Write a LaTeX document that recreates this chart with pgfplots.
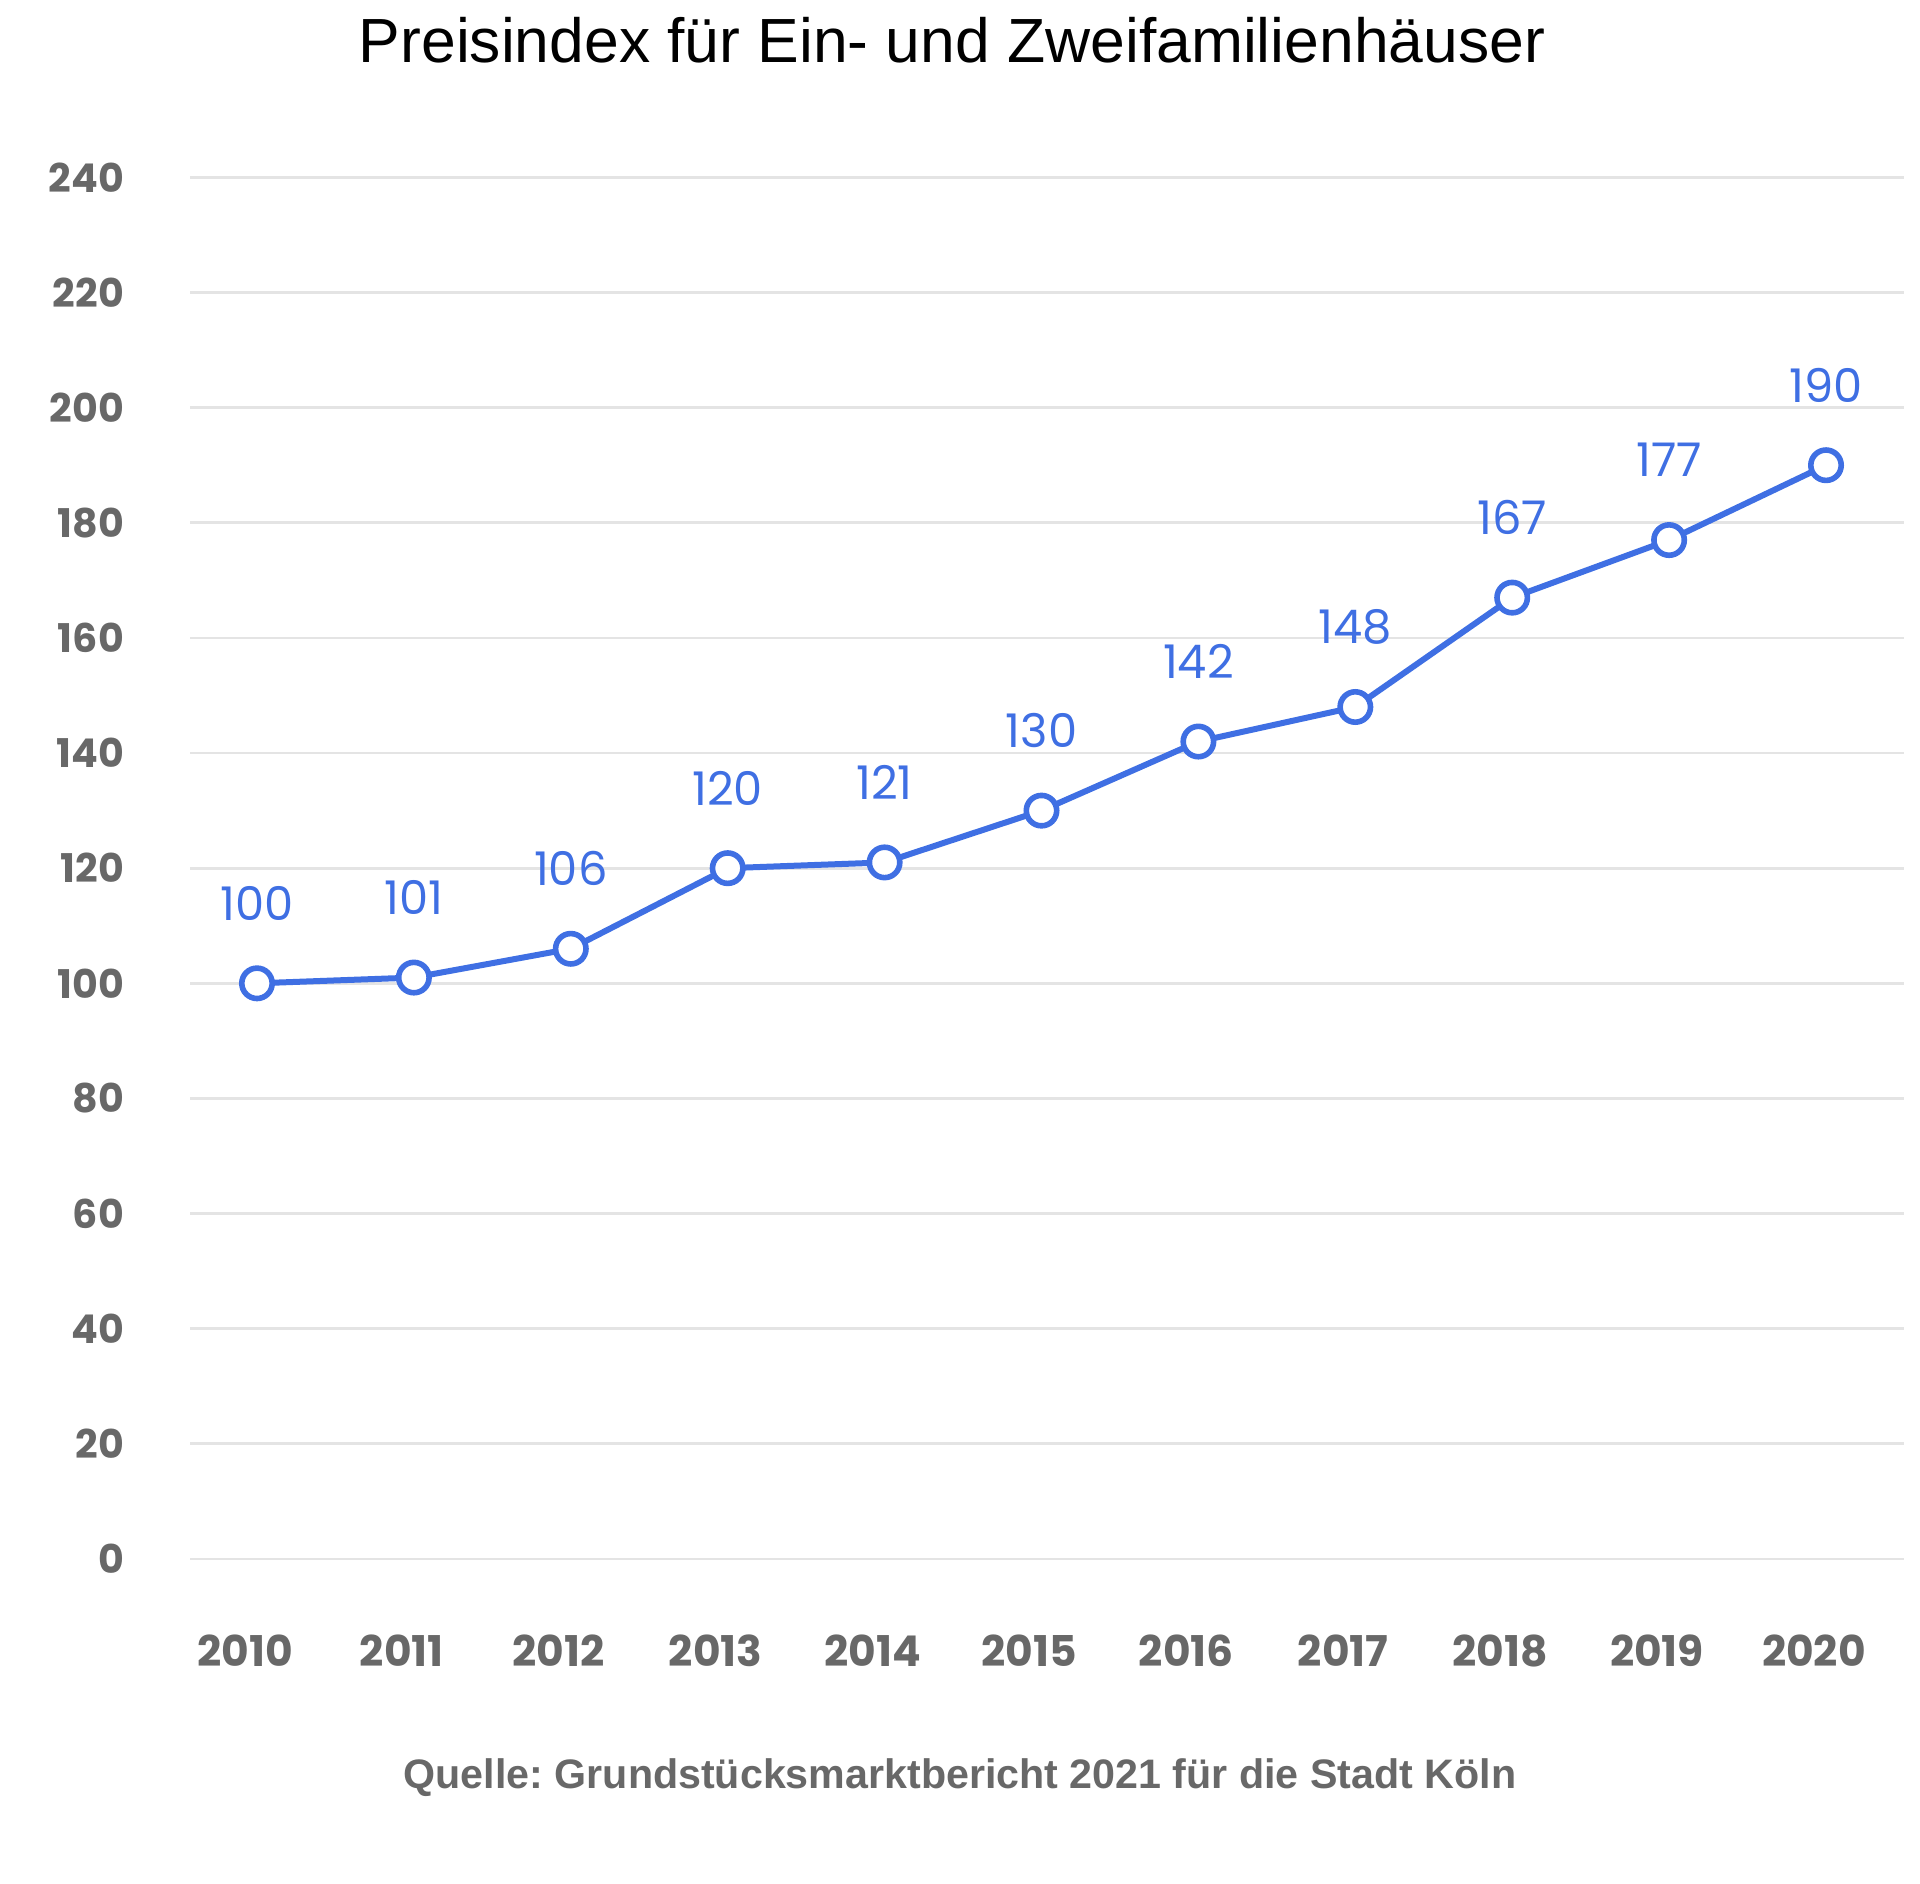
\documentclass[border=0pt]{standalone}
\usepackage{fontspec}
\setmainfont{Liberation Sans}
\newfontfamily\numfont{Poppins}
\usepackage{pgfplots}
\pgfplotsset{compat=1.18}
\frenchspacing

\definecolor{lineblue}{HTML}{3F6FE3}
\definecolor{ticktext}{HTML}{686868}
\definecolor{gridgrey}{HTML}{E4E4E4}

\begin{document}
\begin{tikzpicture}[x=1pt,y=1pt]
  \path[use as bounding box] (0,0) rectangle (480,471);
  \node[font=\fontsize{15.6}{18}\selectfont, text=black] at (238,461) {Preisindex für Ein- und Zweifamilienhäuser};
  \node[font=\fontsize{10.3}{12}\selectfont\bfseries, text=ticktext] at (240,26.5) {Quelle: Grundstücksmarktbericht 2021 für die Stadt Köln};
  \begin{axis}[
    at={(47.5pt,81.25pt)}, anchor=south west,
    scale only axis,
    width=428.5pt, height=345.4pt,
    xmin=2009.573, xmax=2020.497,
    ymin=0, ymax=240,
    axis line style={draw=none},
    major tick length=0pt,
    xtick={2010,...,2020},
    ytick={0,20,...,240},
    ymajorgrids,
    grid style={gridgrey, line width=0.7pt},
    /pgf/number format/1000 sep={},
    /pgf/number format/assume math mode=true,
    tick label style={font=\numfont\bfseries\fontsize{9.9}{11}\selectfont, text=ticktext},
    yticklabel style={anchor=east, xshift=-13pt},
    xticklabel style={anchor=center, yshift=-23pt, xshift=-3pt, font=\numfont\bfseries\fontsize{10.6}{12}\selectfont},
    clip=false,
    nodes near coords,
    every node near coord/.append style={font=\numfont\fontsize{11.6}{13}\selectfont, text=lineblue, anchor=center, yshift=20pt},
  ]
    \addplot[lineblue, line width=1.5pt, mark=*, mark size=3.8pt,
      mark options={fill=white, draw=lineblue, line width=1.4pt}]
      coordinates {
        (2010,100) (2011,101) (2012,106) (2013,120) (2014,121) (2015,130)
        (2016,142) (2017,148) (2018,167) (2019,177) (2020,190)
      };
  \end{axis}
\end{tikzpicture}
\end{document}
